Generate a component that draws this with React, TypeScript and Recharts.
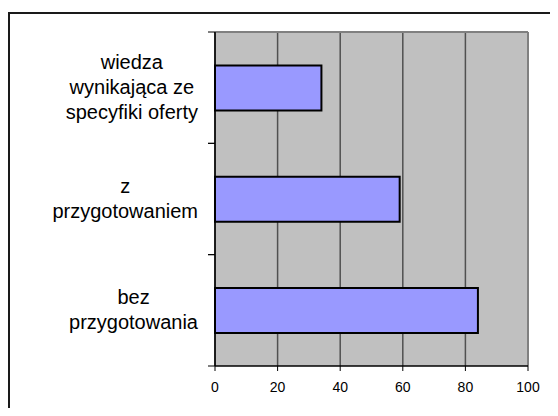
import { BarChart, Bar, XAxis, YAxis, CartesianGrid, ReferenceLine } from 'recharts';

const categories = [
  'wiedza\nwynikająca ze\nspecyfiki oferty',
  'z\nprzygotowaniem',
  'bez\nprzygotowania',
];
const values = [34, 59, 84];
const xTicks = [0, 20, 40, 60, 80, 100];

const data = categories.map((name, i) => ({ name, value: values[i] }));

const labelFont = "20px 'Liberation Sans', Arial, sans-serif";
let ctx: CanvasRenderingContext2D | null = null;
const measure = (s: string) => {
  if (!ctx) ctx = document.createElement('canvas').getContext('2d');
  if (!ctx) return s.length * 10;
  ctx.font = labelFont;
  return ctx.measureText(s).width;
};

// wrapped labels: block right-aligned to the axis, lines centred in the block
const CategoryTick = (props: any) => {
  const { x, y, payload } = props;
  const lines = String(payload.value).split('\n');
  const lineHeight = 25;
  const start = y - ((lines.length - 1) * lineHeight) / 2;
  const half = payload.offset || 0;
  const blockWidth = Math.max(...lines.map(measure));
  const cx = x - 17 - blockWidth / 2;
  return (
    <g>
      <line x1={x - 7} x2={x} y1={y - half} y2={y - half} stroke="#000" strokeWidth={1} />
      <line x1={x - 7} x2={x} y1={y + half} y2={y + half} stroke="#000" strokeWidth={1} />
      <text
        x={cx}
        y={start}
        textAnchor="middle"
        fontSize={20}
        fill="#000"
        fontFamily="'Liberation Sans', Arial, sans-serif"
      >
        {lines.map((line, i) => (
          <tspan key={i} x={cx} y={start + i * lineHeight} dy="0.33em">
            {line}
          </tspan>
        ))}
      </text>
    </g>
  );
};

export default function App() {
  return (
    <div style={{ position: 'relative', width: 542, height: 400, overflow: 'hidden' }}>
      <div
        style={{
          position: 'absolute',
          left: 0,
          top: 4,
          width: 700,
          height: 600,
          borderLeft: '2px solid #1a1a1a',
          borderTop: '2px solid #1a1a1a',
        }}
      />
      <div style={{ position: 'absolute', left: 0, top: 0 }}>
        <BarChart
          width={542}
          height={400}
          data={data}
          layout="vertical"
          barCategoryGap="30%"
          margin={{ top: 24, right: 22, bottom: 0, left: 0 }}
        >
          <CartesianGrid horizontal={false} vertical fill="#C0C0C0" stroke="#505050" strokeWidth={1.5} />
          <XAxis
            type="number"
            domain={[0, 100]}
            ticks={xTicks}
            height={42}
            tickSize={5}
            tickMargin={11}
            axisLine={{ stroke: '#000', strokeWidth: 1.5 }}
            tickLine={{ stroke: '#000' }}
            tick={{ fontSize: 14, fill: '#000', fontFamily: "'Liberation Sans', Arial, sans-serif" }}
          />
          <YAxis
            type="category"
            dataKey="name"
            width={207}
            tickSize={0}
            tickMargin={0}
            axisLine={{ stroke: '#000', strokeWidth: 1.5 }}
            tickLine={false}
            tick={<CategoryTick />}
          />
          <ReferenceLine x={100} stroke="#808080" strokeWidth={2} />
          <ReferenceLine y={categories[0]} position="start" stroke="#808080" strokeWidth={2} />
          <Bar dataKey="value" fill="#9999FF" stroke="#000" strokeWidth={2} isAnimationActive={false} />
        </BarChart>
      </div>
    </div>
  );
}
